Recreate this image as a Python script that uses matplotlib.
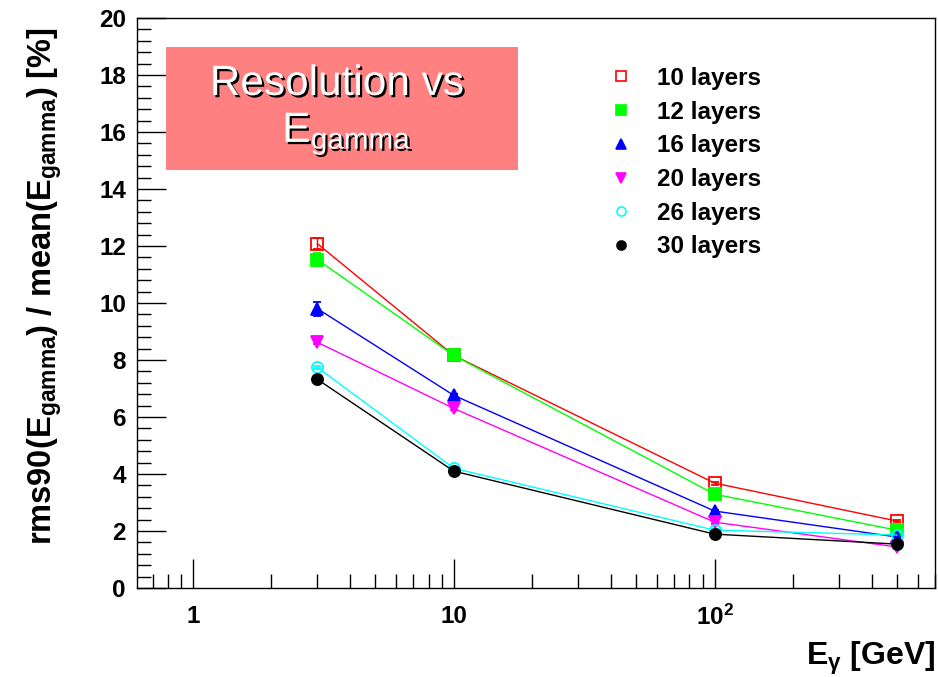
import numpy as np
import matplotlib
matplotlib.use('Agg')
import matplotlib.pyplot as plt
import matplotlib.patheffects as pe
from matplotlib.patches import Rectangle
from matplotlib.ticker import LogLocator, MultipleLocator, FixedLocator, FixedFormatter, NullFormatter

plt.rcParams['font.family'] = ['Liberation Sans', 'DejaVu Sans']
plt.rcParams['mathtext.default'] = 'regular'

# Photon energies (GeV)
energy = [3, 10, 100, 500]

# rms90 / mean resolution [%] per number of layers
layers_labels = ['10 layers', '12 layers', '16 layers', '20 layers', '26 layers', '30 layers']
res_10 = [12.08, 8.16, 3.68, 2.35]
res_12 = [11.52, 8.16, 3.29, 2.03]
res_16 = [9.80, 6.76, 2.70, 1.79]
res_20 = [8.62, 6.30, 2.31, 1.44]
res_26 = [7.74, 4.20, 2.03, 1.86]
res_30 = [7.32, 4.10, 1.89, 1.54]

err_10 = [0.20, 0.05, 0.05, 0.05]
err_12 = [0.22, 0.05, 0.05, 0.05]
err_16 = [0.25, 0.05, 0.05, 0.05]
err_20 = [0.05, 0.05, 0.05, 0.05]
err_26 = [0.05, 0.05, 0.05, 0.05]
err_30 = [0.05, 0.05, 0.05, 0.05]

fig = plt.figure(figsize=(9.38, 6.77), dpi=100)
W, H = 938, 677
ax = fig.add_axes([137 / W, 1 - 588 / H, (935 - 137) / W, (588 - 18) / H])

series = [
    (res_10, err_10, '#ff0000', 's', 'none'),
    (res_12, err_12, '#00ff00', 's', '#00ff00'),
    (res_16, err_16, '#0000ff', '^', '#0000ff'),
    (res_20, err_20, '#ff00ff', 'v', '#ff00ff'),
    (res_26, err_26, '#00ffff', 'o', 'none'),
    (res_30, err_30, '#000000', 'o', '#000000'),
]

handles = []
for (vals, errs, col, mk, face), lab in zip(series, layers_labels):
    ax.errorbar(energy, vals, yerr=errs, color=col, lw=1.0, marker=mk,
                mfc=face, mec=col, mew=1.3, ms=8, capsize=3, elinewidth=1.0)
    h, = ax.plot([], [], ls='none', marker=mk, color=col, mfc=face,
                 mec=col, mew=1.2, ms=6.5, label=lab)
    handles.append(h)

ax.set_xscale('log')
ax.set_xlim(0.61, 700)
ax.set_ylim(0, 20)

# ticks inside, only on the left and bottom
ax.xaxis.set_major_locator(FixedLocator([1, 10, 100]))
ax.xaxis.set_major_formatter(FixedFormatter(['1', '10', '10$^{2}$']))
ax.xaxis.set_minor_locator(LogLocator(base=10, subs=np.arange(2, 10)))
ax.xaxis.set_minor_formatter(NullFormatter())
ax.yaxis.set_major_locator(MultipleLocator(2))
ax.yaxis.set_minor_locator(MultipleLocator(0.4))
ax.tick_params(which='both', direction='in', top=False, right=False, width=1.0)
ax.tick_params(which='major', length=21, labelsize=17.5)
ax.tick_params(which='minor', length=10)
ax.tick_params(axis='y', pad=8)
ax.tick_params(axis='x', pad=12)
for lbl in ax.get_xticklabels() + ax.get_yticklabels():
    lbl.set_fontweight('bold')
for s in ax.spines.values():
    s.set_linewidth(1.0)

fig.text(45 / W, 1 - 27 / H, 'rms90(E$_{gamma}$) / mean(E$_{gamma}$) [%]',
         rotation=90, ha='center', va='top', fontsize=23.5, fontweight='bold')
fig.text(935 / W, 1 - 665 / H, 'E$_{γ}$ [GeV]', ha='right', va='baseline',
         fontsize=23, fontweight='bold')

ax.legend(handles=handles, loc='upper left', bbox_to_anchor=(609 / W, 1 - 67 / H),
          bbox_transform=fig.transFigure, frameon=False,
          prop={'weight': 'bold', 'size': 17.5}, handlelength=1.0,
          handletextpad=0.98, labelspacing=0.44, borderaxespad=0, borderpad=0)

# title box
fig.add_artist(Rectangle((166 / W, 1 - 170 / H), (518 - 166) / W, (170 - 47) / H,
                         transform=fig.transFigure, facecolor='#ff8080',
                         edgecolor='none', zorder=5))
shadow = [pe.withSimplePatchShadow(offset=(1.6, -1.6), shadow_rgbFace='k', alpha=1.0)]
fig.text(337 / W, 1 - 95 / H, 'Resolution vs', ha='center', va='baseline',
         fontsize=30.5, color='white', zorder=6, path_effects=shadow)
fig.text(347 / W, 1 - 142 / H, 'E$_{gamma}$', ha='center', va='baseline',
         fontsize=30.5, color='white', zorder=6, path_effects=shadow)

fig.savefig('out.png', dpi=100)
